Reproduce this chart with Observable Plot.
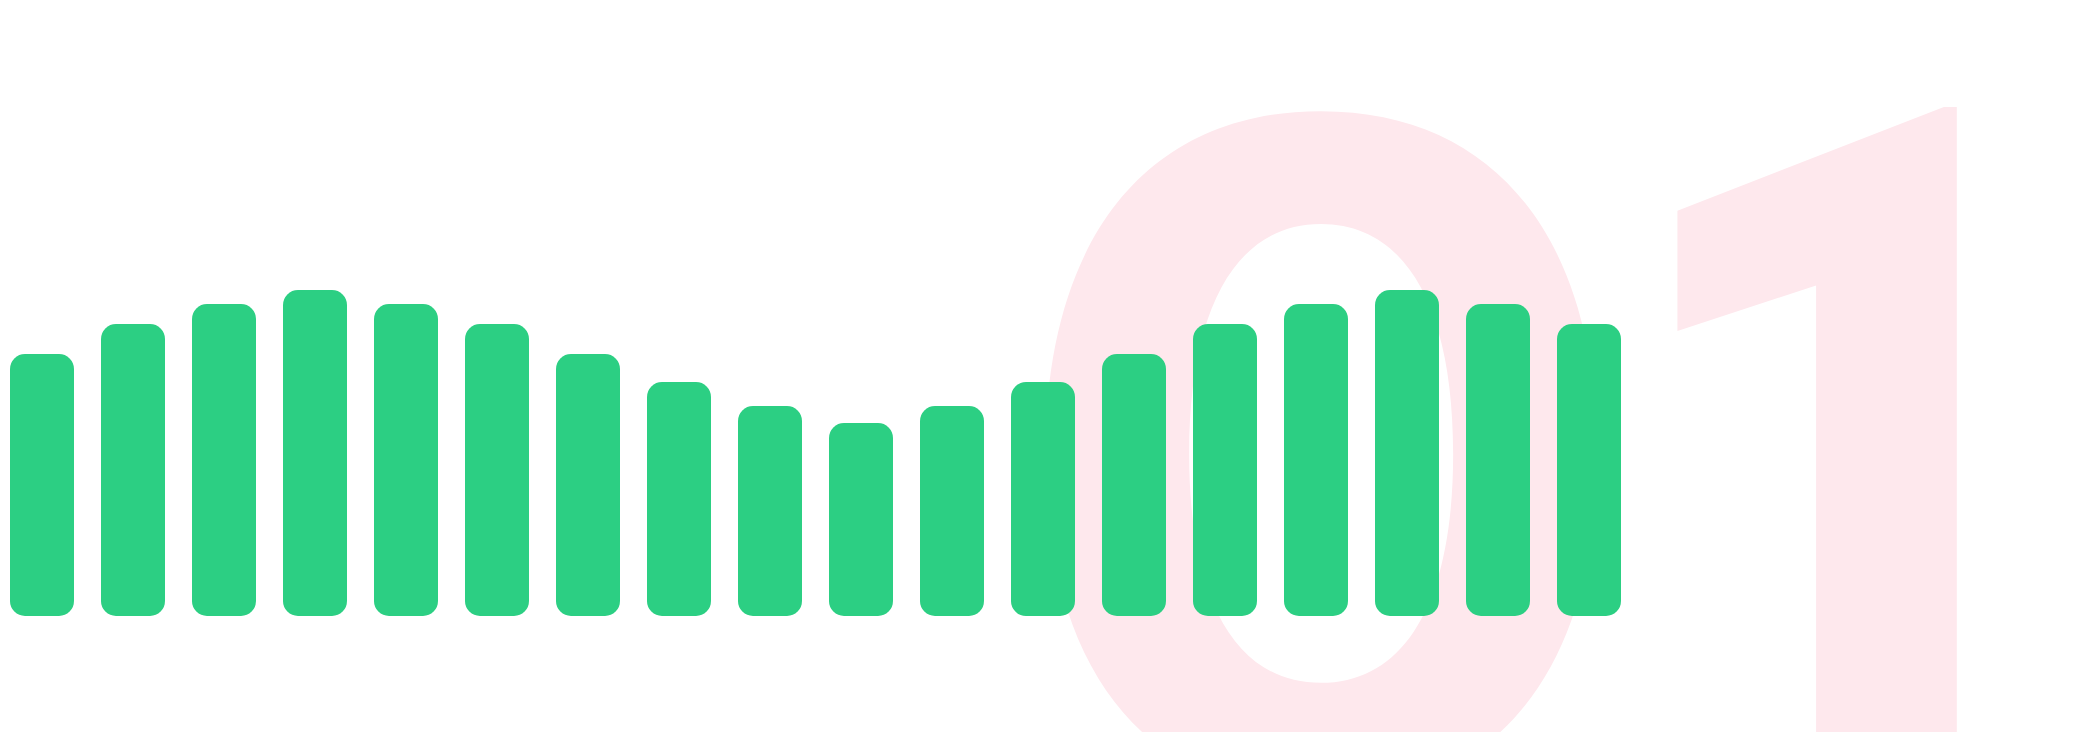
<!DOCTYPE html>
<html>
<head>
<meta charset="utf-8">
<script src="https://cdn.jsdelivr.net/npm/d3@7"></script>
<script src="https://cdn.jsdelivr.net/npm/@observablehq/plot@0.6"></script>
<style>
  html, body { margin: 0; padding: 0; background: #ffffff; overflow: hidden; }
  #chart svg { display: block; }
</style>
</head>
<body>
<div id="chart"></div>
<script>
// Bar categories (18 evenly spaced bars)
const categories = d3.range(1, 19).map(String);
// Bar heights (in px-equivalent units)
const values = [262, 292, 312, 326, 312, 292, 262, 234, 210, 193, 210, 234, 262, 292, 312, 326, 312, 292];
// Big background label, one entry per digit
const digits = ["0", "1"];

const bars = categories.map((c, i) => ({category: c, value: values[i]}));

// Layout: ink boxes the big digits should fill [left, right, top, bottom] and their fonts
const glyphBoxes = [[1031, 1608, 99, 801], [1674, 1968, 99, 790]];
const glyphFonts = [{family: "Inter", weight: 700}, {family: "Roboto", weight: 900}];

const ctx = document.createElement("canvas").getContext("2d");
function inkBox(ch, f) {
  ctx.font = `${f.weight} 1000px ${f.family}`;
  ctx.textAlign = "left";
  ctx.textBaseline = "alphabetic";
  const m = ctx.measureText(ch);
  return {
    left: -m.actualBoundingBoxLeft,
    right: m.actualBoundingBoxRight,
    top: -m.actualBoundingBoxAscent,
    bottom: m.actualBoundingBoxDescent
  };
}

const fits = digits.map((ch, i) => {
  const b = inkBox(ch, glyphFonts[i]);
  const [L, R, T, B] = glyphBoxes[i];
  const k = (B - T) / (b.bottom - b.top);
  const fs = 1000 * k;
  const sx = (R - L) / ((b.right - b.left) * k);
  const Y = T - b.top * k;
  const X = L - sx * b.left * k;
  return {fs, sx, X, Y};
});

const chart = Plot.plot({
  width: 2087,
  height: 732,
  marginTop: 0,
  marginRight: 0,
  marginBottom: 116,
  marginLeft: 0,
  style: {background: "#ffffff", overflow: "hidden"},
  x: {type: "band", domain: categories, range: [1, 1630], paddingInner: 0.293, paddingOuter: 0, axis: null},
  y: {domain: [0, 616], axis: null},
  marks: [
    ...digits.map((ch, i) => Plot.text([ch], {
      text: d => d,
      frameAnchor: "top-left",
      textAnchor: "start",
      lineAnchor: "bottom",
      dx: fits[i].X,
      dy: fits[i].Y,
      fontSize: fits[i].fs,
      fontWeight: glyphFonts[i].weight,
      fontFamily: glyphFonts[i].family,
      fill: "#fee8ed"
    })),
    Plot.barY(bars, {
      x: "category",
      y: "value",
      fill: "#2ccf83",
      rx: 15
    })
  ]
});

// horizontal fit of the big digits
chart.querySelectorAll("text").forEach((t, i) => {
  if (!fits[i]) return;
  const tr = t.getAttribute("transform") || "";
  t.setAttribute("transform", `${tr} scale(${fits[i].sx},1)`);
});

document.getElementById("chart").appendChild(chart);
</script>
</body>
</html>
